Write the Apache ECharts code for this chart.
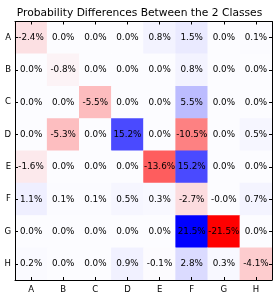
<!DOCTYPE html>
<html><head><meta charset="utf-8">
<script src="https://cdn.jsdelivr.net/npm/echarts@6/dist/echarts.min.js"></script>
<style>html,body{margin:0;padding:0;background:#fff}#c{width:279px;height:298px}</style>
</head><body><div id="c"></div>
<script>
const categories = ['A','B','C','D','E','F','G','H'];
const rowA = [-2.4, 0.0, 0.0, 0.0, 0.8, 1.5, 0.0, 0.1];
const rowB = [0.0, -0.8, 0.0, 0.0, 0.0, 0.8, 0.0, 0.0];
const rowC = [0.0, 0.0, -5.5, 0.0, 0.0, 5.5, 0.0, 0.0];
const rowD = [0.0, -5.3, 0.0, 15.2, 0.0, -10.5, 0.0, 0.5];
const rowE = [-1.6, 0.0, 0.0, 0.0, -13.6, 15.2, 0.0, 0.0];
const rowF = [1.1, 0.1, 0.1, 0.5, 0.3, -2.7, -0.02, 0.7];
const rowG = [0.0, 0.0, 0.0, 0.0, 0.0, 21.5, -21.5, 0.0];
const rowH = [0.2, 0.0, 0.0, 0.9, -0.1, 2.8, 0.3, -4.1];
const rows = [rowA,rowB,rowC,rowD,rowE,rowF,rowG,rowH];
const data = [];
rows.forEach((r, yi) => r.forEach((v, xi) => data.push([xi, yi, v])));
const FONT = 'DejaVu Sans';
const chart = echarts.init(document.getElementById('c'));
const axCommon = {
  type: 'category', data: categories, z: 10,
  axisLine: {show: true, onZero: false, lineStyle: {color: '#000', width: 1}},
  axisTick: {show: true, inside: true, alignWithLabel: true, length: 3, lineStyle: {color: '#000'}},
  splitLine: {show: false}, splitArea: {show: false}
};
chart.setOption({
  animation: false,
  title: {text: 'Probability Differences Between the 2 Classes', left: 'center', top: 3,
    textStyle: {fontFamily: FONT, fontSize: 10.7, fontWeight: 'normal', color: '#000'}},
  grid: {left: 15, right: 7, top: 21.5, bottom: 18},
  xAxis: [
    Object.assign({}, axCommon, {position: 'bottom', axisLabel: {fontFamily: FONT, fontSize: 8.5, color: '#000', margin: 5}}),
    Object.assign({}, axCommon, {position: 'top', axisLabel: {show: false}})
  ],
  yAxis: [
    Object.assign({}, axCommon, {inverse: true, position: 'left', axisLabel: {fontFamily: FONT, fontSize: 8.5, color: '#000', margin: 4}}),
    Object.assign({}, axCommon, {inverse: true, position: 'right', axisLabel: {show: false}})
  ],
  visualMap: {show: false, type: 'continuous', min: -21.5, max: 21.5, dimension: 2,
    inRange: {color: ['#ff0000', '#fcfcff', '#0000ff']}},
  series: [{
    type: 'heatmap', data: data,
    label: {show: true, fontFamily: FONT, fontSize: 8.8, color: '#000', textBorderWidth: 0,
      formatter: p => p.value[2].toFixed(1) + '%'},
    itemStyle: {borderWidth: 0}
  }]
});
</script></body></html>
